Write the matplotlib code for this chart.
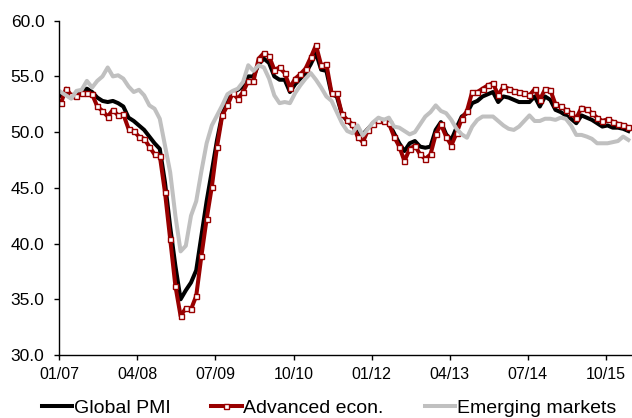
import numpy as np
import matplotlib
matplotlib.use('Agg')
import matplotlib.pyplot as plt
from matplotlib.ticker import FormatStrFormatter

# Monthly manufacturing PMI, Jan 2007 - Feb 2016
global_pmi = [53.3, 53.6, 53.3, 53.3, 53.6, 53.9, 53.6, 53.1, 52.8, 52.7, 52.8, 52.6,
              52.3, 51.3, 51.0, 50.6, 50.2, 49.6, 49.0, 48.5, 45.5, 41.5, 38.0, 35.0,
              35.8, 36.5, 37.6, 40.7, 43.8, 46.5, 49.3, 51.6, 52.9, 53.6, 53.8, 54.1,
              55.0, 55.0, 56.1, 56.6, 56.2, 55.0, 54.7, 54.7, 53.6, 54.3, 54.8, 55.3,
              56.1, 57.1, 55.6, 55.5, 53.4, 53.2, 51.6, 51.0, 50.6, 49.9, 49.8, 50.3,
              50.8, 51.1, 51.1, 50.8, 49.9, 49.0, 48.3, 49.0, 49.2, 48.7, 48.6, 48.7,
              50.2, 50.9, 49.8, 49.3, 50.4, 51.4, 51.7, 52.6, 52.8, 53.2, 53.4, 53.6,
              52.7, 53.2, 53.1, 52.9, 52.7, 52.7, 52.7, 53.2, 52.3, 53.2, 52.9, 52.0,
              51.8, 51.5, 51.2, 50.8, 51.5, 51.3, 51.1, 50.8, 50.5, 50.6, 50.4, 50.4,
              50.3, 50.1]

advanced = [52.6, 53.9, 53.3, 53.2, 53.5, 53.5, 53.4, 52.3, 51.9, 51.4, 52.0, 51.5,
            51.6, 50.3, 50.1, 49.6, 49.4, 48.7, 48.0, 47.9, 44.6, 40.4, 36.2, 33.5,
            34.2, 34.1, 35.3, 38.9, 42.2, 45.1, 48.7, 51.5, 52.4, 53.5, 53.0, 53.6,
            54.6, 54.6, 56.6, 57.1, 56.8, 55.6, 55.8, 55.3, 54.0, 54.8, 55.2, 55.7,
            56.7, 57.8, 56.0, 56.1, 53.5, 53.5, 51.6, 51.1, 50.7, 49.6, 49.1, 50.2,
            50.7, 51.1, 51.0, 50.8, 49.6, 48.7, 47.4, 48.5, 48.8, 48.0, 47.6, 48.0,
            49.8, 50.7, 49.6, 48.8, 49.9, 51.2, 51.9, 53.6, 53.6, 53.9, 54.2, 54.4,
            53.3, 54.1, 53.9, 53.7, 53.6, 53.5, 53.3, 53.85, 52.9, 53.85, 53.8, 52.5,
            52.3, 52.0, 51.7, 51.25, 52.2, 52.05, 51.7, 51.3, 51.0, 51.15, 50.95, 50.75,
            50.65, 50.45]

emerging = [53.6, 53.3, 53.0, 53.7, 53.8, 54.6, 54.0, 54.6, 55.0, 55.8, 55.0, 55.1,
            54.8, 54.1, 53.6, 53.8, 53.3, 52.4, 52.1, 51.2, 48.8, 46.4, 42.5, 39.3,
            39.8, 42.5, 43.8, 46.5, 49.0, 50.6, 51.5, 52.4, 53.4, 53.7, 53.9, 54.5,
            56.0, 55.5, 56.0, 55.8, 54.8, 53.3, 52.6, 52.7, 52.6, 53.5, 54.2, 54.8,
            55.3, 54.7, 54.0, 53.2, 52.8, 51.8, 50.8, 50.1, 49.9, 50.6, 49.7, 50.3,
            50.9, 51.3, 51.1, 51.3, 50.5, 50.4, 50.1, 49.8, 50.0, 50.7, 51.4, 51.8,
            52.4, 51.9, 51.7, 51.1, 50.3, 49.8, 49.5, 50.5, 51.1, 51.4, 51.4, 51.4,
            51.0, 50.6, 50.3, 50.2, 50.5, 51.0, 51.5, 51.0, 51.0, 51.2, 51.2, 51.1,
            51.3, 51.2, 50.6, 49.75, 49.75, 49.6, 49.4, 49.0, 49.0, 49.0, 49.1, 49.2,
            49.6, 49.3]

tick_labels = ['01/07', '04/08', '07/09', '10/10', '01/12', '04/13', '07/14', '10/15']

plt.rcParams['font.family'] = ['Liberation Sans', 'DejaVu Sans']

months = np.arange(len(global_pmi)) + 0.3

fig = plt.figure(figsize=(6.32, 4.18), dpi=100)
ax = fig.add_axes([0.0938, 0.1507, 0.9062, 0.7998])

ax.plot(months, global_pmi, color='black', lw=2.9, label='Global PMI')
ax.plot(months, advanced, color='#990000', lw=2.9, marker='s', markersize=3.6,
        markerfacecolor='white', markeredgecolor='#990000', markeredgewidth=1,
        label='Advanced econ.')
ax.plot(months, emerging, color='#C0C0C0', lw=2.9, label='Emerging markets')

ax.set_xlim(0, 110)
ax.set_ylim(30, 60)
ax.set_yticks(np.arange(30, 61, 5))
ax.yaxis.set_major_formatter(FormatStrFormatter('%.1f'))
ax.set_xticks(np.arange(0, 15 * len(tick_labels), 15))
ax.set_xticklabels(tick_labels)

for s in ['top', 'right']:
    ax.spines[s].set_visible(False)
for s in ['left', 'bottom']:
    ax.spines[s].set_linewidth(1)
ax.tick_params(axis='both', direction='out', length=3.6, width=1, labelsize=11.5,
               colors='black')
ax.tick_params(axis='x', pad=5)
ax.tick_params(axis='y', labelsize=12.5, pad=7)

fig.legend(loc='lower left', bbox_to_anchor=(0.066, 0.003), ncol=3, frameon=False,
           fontsize=14, handlelength=1.55, handletextpad=0.1, columnspacing=2.1,
           borderpad=0, borderaxespad=0)

fig.savefig('out.png', dpi=100)
